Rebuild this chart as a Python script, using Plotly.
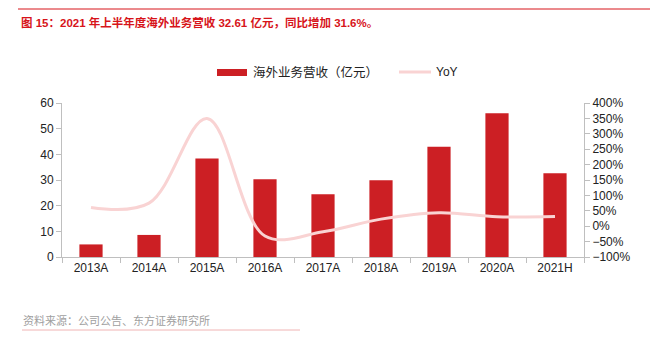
import plotly.graph_objects as go

categories = ["2013A", "2014A", "2015A", "2016A", "2017A", "2018A", "2019A", "2020A", "2021H"]
revenue = [4.9, 8.6, 38.4, 30.3, 24.4, 29.9, 43.0, 56.0, 32.61]
yoy = [61, 75, 350, -32, -18, 23, 44, 31, 31.6]

title_text = "图 15：2021 年上半年度海外业务营收 32.61 亿元，同比增加 31.6%。"
source_text = "资料来源：公司公告、东方证券研究所"
bar_name = "海外业务营收（亿元）"
line_name = "YoY"

FONT = "Liberation Sans, Arial, Noto Sans CJK SC, sans-serif"
RED = "#CC1F24"
PINK = "#F9D3D3"
AXIS = "#BFBFBF"

L, R, T, B = 62, 66, 103, 88
PW, PH = 650 - L - R, 345 - T - B


def px(x):
    return (x - L) / PW


def py(y):
    return 1 + (T - y) / PH


fig = go.Figure()
fig.add_trace(go.Bar(
    x=categories, y=revenue, name=bar_name,
    marker=dict(color=RED, line=dict(width=0)), yaxis="y",
))
fig.add_trace(go.Scatter(
    x=categories, y=yoy, name=line_name, mode="lines",
    line=dict(color=PINK, width=3, shape="spline", smoothing=1.0), yaxis="y2",
))

fig.update_layout(
    width=650, height=345,
    margin=dict(l=L, r=R, t=T, b=B),
    paper_bgcolor="white", plot_bgcolor="white",
    font=dict(family=FONT, size=12, color="#222"),
    bargap=0.6,
    showlegend=False,
    xaxis=dict(
        type="category", showline=True, linecolor=AXIS, linewidth=1,
        ticks="outside", tickcolor=AXIS, ticklen=5, tickson="boundaries",
        showgrid=False, tickfont=dict(size=12, color="#222"),
    ),
    yaxis=dict(
        range=[0, 60], dtick=10, showline=True, linecolor=AXIS, linewidth=1,
        ticks="outside", tickcolor=AXIS, ticklen=5, showgrid=False, zeroline=False,
        tickfont=dict(size=12, color="#222"),
    ),
    yaxis2=dict(
        range=[-100, 400], dtick=50, ticksuffix="%", overlaying="y", side="right",
        showline=True, linecolor=AXIS, linewidth=1, ticks="outside", tickcolor=AXIS,
        ticklen=5, showgrid=False, zeroline=False, tickfont=dict(size=12, color="#222"),
    ),
)

# Title and top rule
fig.add_annotation(
    text="<b>" + title_text + "</b>", xref="paper", yref="paper", x=px(19), y=py(22),
    xanchor="left", yanchor="middle", showarrow=False,
    font=dict(size=11.5, color="#D7141A", family=FONT),
)
fig.add_shape(type="line", xref="paper", yref="paper",
              x0=px(18), x1=px(650), y0=py(9), y1=py(9),
              line=dict(color="#D7141A", width=1))

# Legend (manual)
fig.add_shape(type="rect", xref="paper", yref="paper",
              x0=px(217), x1=px(247), y0=py(69), y1=py(76),
              fillcolor=RED, line=dict(width=0))
fig.add_annotation(text=bar_name, xref="paper", yref="paper", x=px(251), y=py(72),
                   xanchor="left", yanchor="middle", showarrow=False,
                   font=dict(size=12.5, color="#222", family=FONT))
fig.add_shape(type="line", xref="paper", yref="paper",
              x0=px(399), x1=px(431), y0=py(72), y1=py(72),
              line=dict(color=PINK, width=3))
fig.add_annotation(text=line_name, xref="paper", yref="paper", x=px(434), y=py(72),
                   xanchor="left", yanchor="middle", showarrow=False,
                   font=dict(size=12, color="#222", family=FONT))

# Source and bottom rule
fig.add_annotation(
    text=source_text, xref="paper", yref="paper", x=px(21), y=py(320),
    xanchor="left", yanchor="middle", showarrow=False,
    font=dict(size=11, color="#A0A0A0", family=FONT),
)
fig.add_shape(type="line", xref="paper", yref="paper",
              x0=px(22), x1=px(300), y0=py(330), y1=py(330),
              line=dict(color="#F0B4B4", width=1))

fig.write_html("out.html")
